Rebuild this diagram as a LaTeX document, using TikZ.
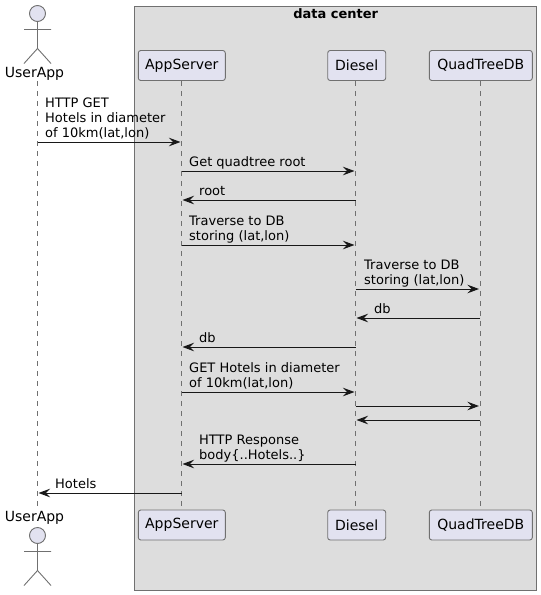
\documentclass[tikz,border=0pt]{standalone}
\usepackage{fontspec}
\setmainfont{DejaVu Sans}
\usetikzlibrary{arrows.meta}
\definecolor{partfill}{HTML}{E2E2F0}
\definecolor{ink}{HTML}{181818}
\definecolor{edge}{HTML}{707070}
\definecolor{groupfill}{HTML}{DDDDDD}
\tikzset{
  part/.style={draw=edge,line width=0.9pt,fill=partfill,rounded corners=2.5pt,minimum height=30pt,inner sep=0pt,font=\fontsize{14}{16}\selectfont,text=black},
  lifeline/.style={draw=edge,line width=0.9pt,dash pattern=on 5pt off 5pt},
  msg/.style={draw=ink,line width=1pt,shorten >=1pt,-{Stealth[length=11.5pt,width=8.5pt,inset=4pt,color=ink]}},
  lbl/.style={anchor=south west,inner sep=0pt,align=left,text depth=3pt,font=\fontsize{13}{15}\selectfont,text=black},
  actorname/.style={inner sep=0pt,font=\fontsize{14}{16}\selectfont,text=black},
  stick/.style={draw=edge,line width=0.9pt},
  head/.style={circle,draw=edge,line width=0.9pt,fill=partfill,minimum size=16pt,inner sep=0pt},
}
\begin{document}
\begin{tikzpicture}[x=1pt,y=-1pt]
\useasboundingbox (0,0) rectangle (541,595);
\node[draw=edge,line width=0.9pt,fill=groupfill,minimum width=402.5pt,minimum height=584pt,inner sep=0pt] (grp) at (335.5,298.25) {};
\node[anchor=base,inner sep=0pt,font=\bfseries\fontsize{13}{15}\selectfont] (grptitle) at (335.75,18) {data center};
% participants
\node[part,minimum width=87pt] (appT) at (181.8,65.5) {AppServer};
\node[part,minimum width=58pt] (dieT) at (356.7,65.5) {Diesel};
\node[part,minimum width=103pt] (quaT) at (480.8,65.5) {QuadTreeDB};
\node[part,minimum width=87pt] (appB) at (181.8,525) {AppServer};
\node[part,minimum width=58pt] (dieB) at (356.7,525) {Diesel};
\node[part,minimum width=103pt] (quaB) at (480.8,525) {QuadTreeDB};
% actors
\node[head] (uaHeadT) at (37.5,13.5) {};
\node[actorname] (uaT) at (34.5,73.5) {UserApp};
\node[head] (uaHeadB) at (37.5,535.5) {};
\node[actorname] (uaB) at (34.5,518) {UserApp};
\coordinate (uaHipT) at (37.5,48.5);
\coordinate (uaHipB) at (37.5,570.5);
\draw[stick] (uaHeadT.south) -- (uaHipT) (24,29.5) -- (51,29.5) (24,63.5) -- (uaHipT) -- (51,63.5);
\draw[stick] (uaHeadB.south) -- (uaHipB) (24,551.5) -- (51,551.5) (24,585.5) -- (uaHipB) -- (51,585.5);
% lifelines
\coordinate (ua) at (37.5,81);
\coordinate (uaEnd) at (37.5,507);
\draw[lifeline] (ua) -- (uaEnd);
\coordinate (app) at (181.5,81);
\coordinate (die) at (355.5,81);
\coordinate (qua) at (480,81);
\draw[lifeline] (app) -- (app |- appB.north);
\draw[lifeline] (die) -- (die |- dieB.north);
\draw[lifeline] (qua) -- (qua |- quaB.north);
% messages
\draw[msg] (ua |- 0,142) -- (app |- 0,142);
\node[lbl] (t1) at (45,140.4) {HTTP GET\\Hotels in diameter\\of 10km(lat,lon)};
\draw[msg] (app |- 0,171) -- (die |- 0,171);
\node[lbl] (t2) at (189,169.4) {Get quadtree root};
\draw[msg] (die |- 0,200) -- (app |- 0,200);
\node[lbl] (t3) at (199,198.4) {root};
\draw[msg] (app |- 0,245) -- (die |- 0,245);
\node[lbl] (t4) at (189,243.4) {Traverse to DB\\storing (lat,lon)};
\draw[msg] (die |- 0,289) -- (qua |- 0,289);
\node[lbl] (t5) at (364,287.4) {Traverse to DB\\storing (lat,lon)};
\draw[msg] (qua |- 0,318) -- (die |- 0,318);
\node[lbl] (t6) at (374,316.4) {db};
\draw[msg] (die |- 0,347) -- (app |- 0,347);
\node[lbl] (t7) at (199,345.4) {db};
\draw[msg] (app |- 0,392) -- (die |- 0,392);
\node[lbl] (t8) at (189,390.4) {GET Hotels in diameter\\of 10km(lat,lon)};
\draw[msg] (die |- 0,406) -- (qua |- 0,406);
\draw[msg] (qua |- 0,420) -- (die |- 0,420);
\draw[msg] (die |- 0,464) -- (app |- 0,464);
\node[lbl] (t9) at (199,462.4) {HTTP Response\\body\{..Hotels..\}};
\draw[msg] (app |- 0,493) -- (ua |- 0,493);
\node[lbl] (t10) at (55,491.4) {Hotels};
\end{tikzpicture}
\end{document}
